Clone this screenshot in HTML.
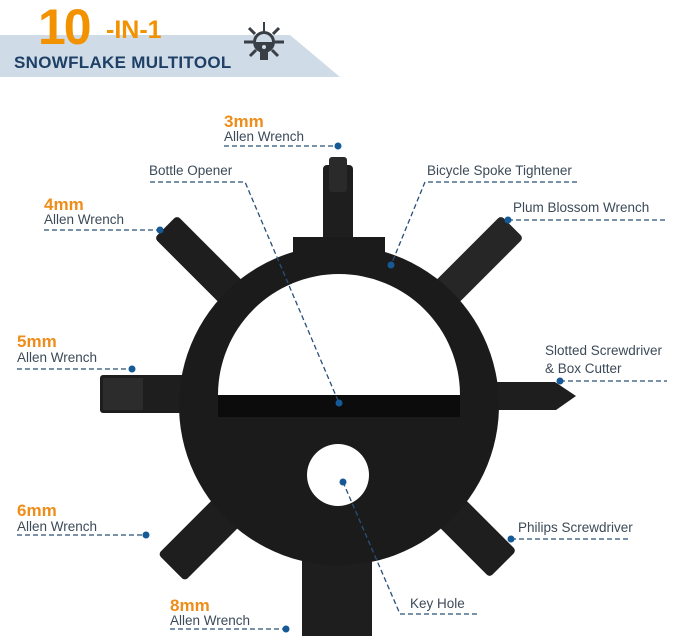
<!DOCTYPE html>
<html><head><style>
html,body{margin:0;padding:0;background:#fff;}
svg{display:block;}
text{font-family:"Liberation Sans",sans-serif;}
</style></head><body>
<svg width="679" height="636" viewBox="0 0 679 636" xmlns="http://www.w3.org/2000/svg">
<!-- header -->
<polygon points="0,35 290,35 340,77 0,77" fill="#cfdbe7"/>
<text x="38" y="44" font-size="50" font-weight="bold" fill="#f39200" letter-spacing="-2">10</text>
<text x="106" y="38" font-size="25" font-weight="bold" fill="#f39200">-IN-1</text>
<text x="14" y="68" font-size="17" font-weight="bold" fill="#1e3f66" letter-spacing="0.3">SNOWFLAKE MULTITOOL</text>
<g fill="#3a3f45" stroke="#3a3f45">
<circle cx="264" cy="42" r="11" stroke="none"/>
<line x1="264" y1="22" x2="264" y2="32" stroke-width="2"/>
<line x1="249" y1="28" x2="255" y2="34" stroke-width="3"/>
<line x1="279" y1="28" x2="273" y2="34" stroke-width="3"/>
<line x1="244" y1="42" x2="253" y2="42" stroke-width="3"/>
<line x1="284" y1="42" x2="275" y2="42" stroke-width="3"/>
<line x1="250" y1="56" x2="256" y2="50" stroke-width="3"/>
<line x1="278" y1="56" x2="272" y2="50" stroke-width="3"/>
<rect x="260" y="50" width="8" height="10" stroke="none"/>
</g>
<path d="M256,42 A8,8 0 0 1 272,42 Z" fill="#cfdbe7"/>
<circle cx="264" cy="47" r="2" fill="#cfdbe7"/>

<!-- spokes -->
<g fill="#1e1e1e">
<rect x="323" y="165" width="30" height="90" rx="4"/>
<rect x="329" y="157" width="18" height="35" rx="3" fill="#2a2a2a"/>
<rect x="100" y="375" width="100" height="38" rx="3"/>
<rect x="103" y="378" width="40" height="32" fill="#2c2c2c"/>
<g transform="rotate(-45 339 400)"><rect x="323" y="155" width="32" height="113" rx="4"/></g>
<g transform="rotate(45 339 400)"><rect x="323" y="155" width="32" height="113" rx="4" fill="#262626"/></g>
<g transform="rotate(135 339 400)"><rect x="320" y="168" width="38" height="102" rx="4"/></g>
<g transform="rotate(-135 339 400)"><rect x="320" y="163" width="38" height="107" rx="4"/></g>
<rect x="302" y="540" width="70" height="96"/>
<polygon points="480,382 555,382 576,396 556,410 480,410"/>
</g>
<!-- ring -->
<path fill-rule="evenodd" fill="#1b1b1b" d="
M293,237 L385,237 L385,252 A160,160 0 1 1 293,252 Z
M218,395 A121,121 0 0 1 460,395 Z
M369,475 A31,31 0 1 0 307,475 A31,31 0 1 0 369,475 Z"/>
<rect x="218" y="395" width="242" height="22" fill="#0c0c0c"/>

<!-- connectors -->
<g stroke="#2a4f78" stroke-width="1.3" stroke-dasharray="5,3" fill="none">
<line x1="224" y1="146" x2="338" y2="146"/>
<polyline points="150,182 245,182 339,403"/>
<polyline points="577,182 425,182 391,265"/>
<line x1="508" y1="220" x2="665" y2="220"/>
<line x1="44" y1="230" x2="160" y2="230"/>
<line x1="17" y1="369" x2="132" y2="369"/>
<line x1="560" y1="381" x2="667" y2="381"/>
<line x1="17" y1="535" x2="146" y2="535"/>
<line x1="511" y1="539" x2="630" y2="539"/>
<line x1="170" y1="629" x2="286" y2="629"/>
<polyline points="477,614 400,614 343,482"/>
</g>
<g fill="#155a96">
<circle cx="338" cy="146" r="3.5"/><circle cx="339" cy="403" r="3.5"/><circle cx="391" cy="265" r="3.5"/>
<circle cx="508" cy="220" r="3.5"/><circle cx="160" cy="230" r="3.5"/><circle cx="132" cy="369" r="3.5"/>
<circle cx="560" cy="381" r="3.5"/><circle cx="146" cy="535" r="3.5"/><circle cx="511" cy="539" r="3.5"/>
<circle cx="286" cy="629" r="3.5"/><circle cx="343" cy="482" r="3.5"/>
</g>
<!-- labels -->
<g font-size="13.5" fill="#3c4a58">
<text x="224" y="141">Allen Wrench</text>
<text x="149" y="175">Bottle Opener</text>
<text x="427" y="175">Bicycle Spoke Tightener</text>
<text x="513" y="212">Plum Blossom Wrench</text>
<text x="44" y="224">Allen Wrench</text>
<text x="17" y="362">Allen Wrench</text>
<text x="545" y="355">Slotted Screwdriver</text>
<text x="545" y="373">&amp; Box Cutter</text>
<text x="17" y="531">Allen Wrench</text>
<text x="518" y="532">Philips Screwdriver</text>
<text x="170" y="625">Allen Wrench</text>
<text x="410" y="608">Key Hole</text>
</g>
<g font-size="17" font-weight="bold" fill="#ee8d1a">
<text x="224" y="127">3mm</text>
<text x="44" y="210">4mm</text>
<text x="17" y="347">5mm</text>
<text x="17" y="516">6mm</text>
<text x="170" y="611">8mm</text>
</g>
</svg>
</body></html>
